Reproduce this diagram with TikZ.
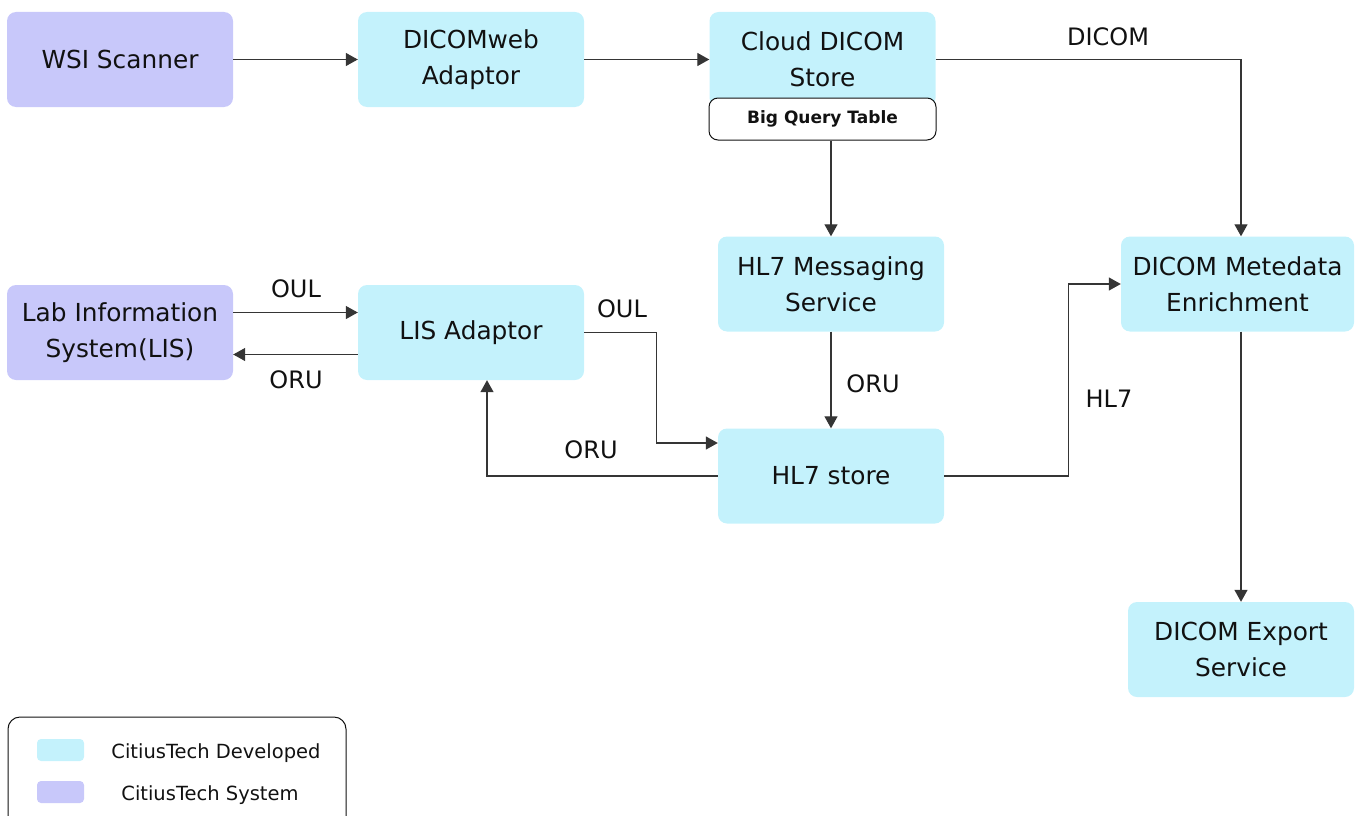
\documentclass[tikz,border=0pt]{standalone}
\usepackage{fontspec}
\setmainfont{DejaVu Sans}
\usetikzlibrary{arrows.meta,calc}
\definecolor{devfill}{RGB}{196,242,252}
\definecolor{sysfill}{RGB}{200,200,250}
\definecolor{ink}{RGB}{17,17,17}
\tikzset{
  box/.style={rounded corners=9pt, minimum width=226pt, minimum height=95pt, inner sep=0pt, align=center, text=ink, font=\fontsize{24.8}{36}\selectfont},
  dev/.style={box, fill=devfill},
  sys/.style={box, fill=sysfill},
  conn/.style={line width=1.3pt, draw=ink!85, -{Triangle[length=12pt,width=13pt]}},
  lbl/.style={text=ink, font=\fontsize{24}{28}\selectfont, inner sep=0pt},
  swatch/.style={rounded corners=4pt, minimum width=47pt, minimum height=22pt, inner sep=0pt}
}
\begin{document}
\begin{tikzpicture}[x=1pt,y=-1pt]
\useasboundingbox (0,0) rectangle (1362,816);
% nodes
\node[sys] (wsi) at (120,59.5) {WSI Scanner};
\node[dev] (web) at (471,59.5) {DICOMweb\\Adaptor};
\node[dev] (cloud) at (822.5,59.5) {Cloud DICOM\\Store};
\node[draw=ink, line width=1pt, fill=white, rounded corners=9pt, minimum width=227pt, minimum height=42pt, inner sep=0pt, font=\fontsize{17}{20}\selectfont\bfseries, text=ink] (bq) at (822.5,119) {Big Query Table};
\node[dev] (msg) at (831,284) {HL7 Messaging\\Service};
\node[dev, minimum width=233pt] (meta) at (1237.5,284) {DICOM Metedata\\Enrichment};
\node[sys] (lis) at (120,332.5) {Lab Information\\System(LIS)};
\node[dev] (lisad) at (471,332.5) {LIS Adaptor};
\node[dev] (store) at (831,476) {HL7 store};
\node[dev] (export) at (1241,649.5) {DICOM Export\\Service};
\coordinate (dcol) at (1241,0);
% connectors
\draw[conn] (wsi.east) -- (web.west);
\draw[conn] (web.east) -- (cloud.west);
\draw[conn] (cloud.east) -| (dcol |- meta.north);
\draw[conn] (msg.north |- bq.south) -- (msg.north);
\draw[conn] ([yshift=20pt]lis.east) -- ([yshift=20pt]lisad.west);
\draw[conn] ([yshift=-22pt]lisad.west) -- ([yshift=-22pt]lis.east);
\draw[conn] (lisad.east) -- ++(72,0) |- ([yshift=33pt]store.west);
\draw[conn] (store.west) -| ([xshift=16pt]lisad.south);
\draw[conn] (msg.south) -- (store.north);
\draw[conn] (store.east) -- ++(124,0) |- (meta.west);
\draw[conn] (dcol |- meta.south) -- (export.north);
% labels
\node[lbl] (l1) at (1108,37) {DICOM};
\node[lbl] (l2) at (296,289) {OUL};
\node[lbl] (l3) at (296,380) {ORU};
\node[lbl] (l4) at (622,309) {OUL};
\node[lbl] (l5) at (591,450) {ORU};
\node[lbl] (l6) at (873,384) {ORU};
\node[lbl] (l7) at (1109,399) {HL7};
% legend
\draw[line width=1pt, draw=ink, rounded corners=12pt] (8,830) rectangle (346,717);
\node[swatch, fill=devfill] (s1) at (60.5,750) {};
\node[swatch, fill=sysfill] (s2) at (60.5,792) {};
\node[lbl, font=\fontsize{19.5}{22}\selectfont] (t1) at (216,753) {CitiusTech Developed};
\node[lbl, font=\fontsize{19.5}{22}\selectfont] (t2) at (210,795) {CitiusTech System};
\end{tikzpicture}
\end{document}
